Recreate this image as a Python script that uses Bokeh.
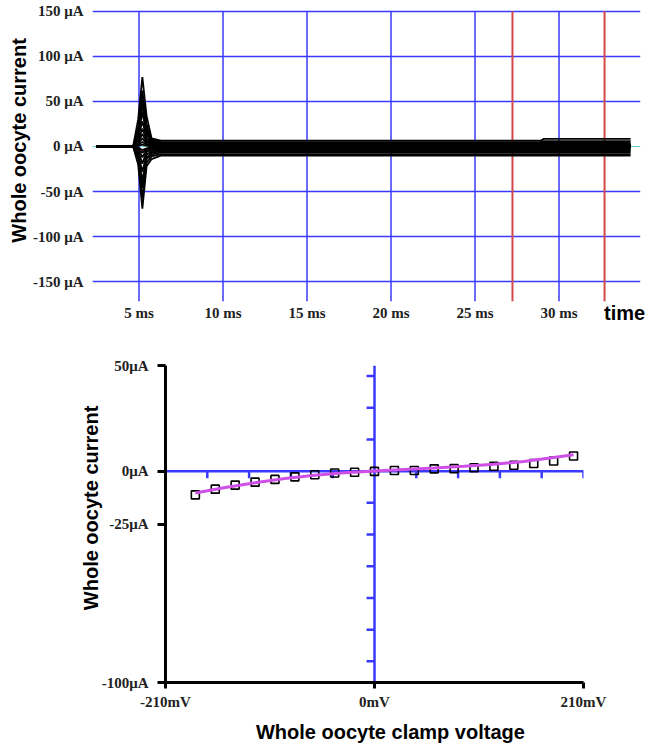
import math
from bokeh.plotting import figure
from bokeh.models import FixedTicker, Range1d, Span, LinearAxis
from bokeh.embed import file_html
from bokeh.resources import INLINE

# ---------------- top panel: current traces ----------------
time_ticks = [5, 10, 15, 20, 25, 30]
time_tick_labels = ["5 ms", "10 ms", "15 ms", "20 ms", "25 ms", "30 ms"]
red_marker_times = [27.23, 32.71]
current_grid = [150, 100, 50, -50, -100, -150]
current_ticks = [150, 100, 50, 0, -50, -100, -150]
current_tick_labels = ["150 μA", "100 μA", "50 μA", "0 μA", "-50 μA", "-100 μA", "-150 μA"]
top_y_title = "Whole oocyte current"
top_x_title = "time"

# knot times (ms) of each recorded trace
trace_times = [2.47, 4.65, 4.95, 5.2, 5.45, 5.75, 6.3, 28.9, 29.1, 34.26]
# one entry per voltage step (-180 ... +200 mV)
trace_baseline = [0] * 20
trace_rise = [-20, -16, -13, -10, -8, -5, -3, -2, -1, 1, 2, 3, 4, 6, 9, 12, 15, 18, 22, 30]
trace_peak = [-69, -57, -46, -38, -28, -19, -12, -7, -4, 2, 5, 9, 14, 20, 28, 38, 46, 52, 62, 77]
trace_fall = [-22, -18, -14, -12, -9, -6, -4, -3, -2, 1, 2, 3, 5, 7, 10, 14, 17, 20, 25, 34]
trace_settle = [-14, -11, -9, -7, -5.5, -4, -2.5, -1.5, -0.8, 0.2, 0.6, 1, 2, 3, 3.5, 4.5, 5.5, 6.5, 7.5, 9]
trace_ss_early = [-10.2, -8.5, -6.6, -5.2, -3.9, -2.7, -1.7, -0.9, -0.5, 0, 0.3, 0.4, 1.1, 1.2, 1.6, 2.3, 2.8, 3.6, 4.8, 6.4]
trace_ss_late = [-10.2, -8.5, -6.6, -5.2, -3.9, -2.7, -1.7, -0.9, -0.5, 0, 0.3, 0.4, 1.1, 1.2, 1.6, 2.3, 2.8, 4.2, 6.0, 8.4]

# ---------------- bottom panel: I-V relation ----------------
iv_voltage = [-180, -160, -140, -120, -100, -80, -60, -40, -20, 0,
              20, 40, 60, 80, 100, 120, 140, 160, 180, 200]
iv_current = [-11.2, -8.5, -6.6, -5.2, -3.9, -2.7, -1.7, -0.9, -0.5, -0.1,
              0.3, 0.3, 1.1, 1.2, 1.6, 2.3, 2.8, 3.6, 4.8, 7.2]
fit_voltage = [-180, -150, -120, -90, -60, -30, 0, 30, 60, 90, 120, 150, 180, 200]
fit_current = [-10.3, -7.7, -5.5, -3.5, -1.9, -0.8, 0.1, 0.8, 1.5, 2.3, 3.3, 4.6, 6.5, 7.8]
iv_y_ticks = [50, 0, -25, -100]
iv_y_tick_labels = ["50μA", "0μA", "-25μA", "-100μA"]
iv_x_ticks = [-210, 0, 210]
iv_x_tick_labels = ["-210mV", "0mV", "210mV"]
inner_x_ticks = [-168, -126, -84, -42, 42, 84, 126, 168, 210]
inner_y_ticks = [45, 30, 15, -15, -30, -45, -60, -75, -90]
iv_y_title = "Whole oocyte current"
iv_x_title = "Whole oocyte clamp voltage"

BLUE = "#3a3aff"
RED = "#d44848"
SERIF = "Liberation Serif"
SANS = "Liberation Sans"


def style_ticks(ax, ticks, labels, standoff, tick_out=0, line_color=None, line_width=1):
    ax.ticker = FixedTicker(ticks=ticks)
    ax.major_label_overrides = {t: l for t, l in zip(ticks, labels)}
    ax.axis_line_color = line_color
    ax.axis_line_width = line_width
    ax.major_tick_line_color = line_color
    ax.major_tick_line_width = line_width
    ax.minor_tick_line_color = None
    ax.minor_tick_out = 0
    ax.minor_tick_in = 0
    ax.major_tick_out = tick_out
    ax.major_tick_in = 0
    ax.major_label_standoff = standoff
    ax.major_label_text_font = SERIF
    ax.major_label_text_font_style = "bold"
    ax.major_label_text_font_size = "15px"
    ax.major_label_text_color = "#222222"


def title_axis(ax, pos, text, standoff, vertical=False):
    ax.ticker = FixedTicker(ticks=[pos])
    ax.major_label_overrides = {pos: text}
    ax.axis_line_color = None
    ax.major_tick_line_color = None
    ax.minor_tick_line_color = None
    ax.major_tick_out = 0
    ax.major_tick_in = 0
    ax.minor_tick_out = 0
    ax.major_label_standoff = standoff
    ax.major_label_text_font = SANS
    ax.major_label_text_font_style = "bold"
    ax.major_label_text_font_size = "20px"
    ax.major_label_text_color = "black"
    if vertical:
        ax.major_label_orientation = "vertical"


# ======== top figure ========
p1 = figure(width=647, height=335, x_range=Range1d(2.232, 34.85), y_range=Range1d(-172, 152),
            output_backend="svg", toolbar_location=None,
            min_border_left=92, min_border_right=7, min_border_top=9, min_border_bottom=34)
p1.outline_line_color = None
p1.xgrid.visible = False
p1.ygrid.ticker = FixedTicker(ticks=current_grid)
p1.ygrid.grid_line_color = BLUE
p1.ygrid.grid_line_width = 1.5

style_ticks(p1.xaxis[0], time_ticks, time_tick_labels, 3)
style_ticks(p1.yaxis[0], current_ticks, current_tick_labels, 9)

y_title_ax1 = LinearAxis()
title_axis(y_title_ax1, 6.7, top_y_title, -1, vertical=True)
p1.add_layout(y_title_ax1, "left")
x_title_ax1 = LinearAxis()
title_axis(x_title_ax1, 33.9, top_x_title, -22)
p1.add_layout(x_title_ax1, "below")

p1.add_layout(Span(location=0, dimension="width", line_color="#66cccc", line_width=1.2, level="underlay"))

p1.segment(x0=time_ticks, x1=time_ticks, y0=[p1.y_range.start] * len(time_ticks),
           y1=[current_ticks[0]] * len(time_ticks), line_color=BLUE, line_width=1.5)
p1.segment(x0=red_marker_times, x1=red_marker_times, y0=[p1.y_range.start] * 2,
           y1=[current_ticks[0]] * 2, line_color=RED, line_width=2)

xs, ys = [], []
for i in range(len(trace_peak)):
    xs.append(trace_times)
    ys.append([trace_baseline[i], trace_baseline[i], trace_rise[i], trace_peak[i], trace_fall[i],
               trace_settle[i], trace_ss_early[i], trace_ss_early[i], trace_ss_late[i], trace_ss_late[i]])
p1.multi_line(xs=xs, ys=ys, line_color="black", line_width=1.8)

# ======== bottom figure ========
p2 = figure(width=647, height=410, x_range=Range1d(-210, 210), y_range=Range1d(-100, 50),
            output_backend="svg", toolbar_location=None,
            min_border_left=165, min_border_right=64, min_border_top=30, min_border_bottom=61)
p2.outline_line_color = None
p2.grid.visible = False

style_ticks(p2.xaxis[0], iv_x_ticks, iv_x_tick_labels, 5, tick_out=6, line_color="black", line_width=3)
style_ticks(p2.yaxis[0], iv_y_ticks, iv_y_tick_labels, 9, tick_out=8, line_color="black", line_width=3)

y_title_ax2 = LinearAxis()
title_axis(y_title_ax2, -17.4, iv_y_title, -4, vertical=True)
p2.add_layout(y_title_ax2, "left")
x_title_ax2 = LinearAxis()
title_axis(x_title_ax2, 16, iv_x_title, 8)
p2.add_layout(x_title_ax2, "below")

p2.add_layout(Span(location=0, dimension="width", line_color=BLUE, line_width=2.5, level="underlay"))
p2.add_layout(Span(location=0, dimension="height", line_color=BLUE, line_width=2.5, level="underlay"))
p2.segment(x0=inner_x_ticks, x1=inner_x_ticks, y0=[0] * len(inner_x_ticks),
           y1=[-3.3] * len(inner_x_ticks), line_color=BLUE, line_width=2.5)
p2.segment(x0=[-8] * len(inner_y_ticks), x1=[0] * len(inner_y_ticks), y0=inner_y_ticks,
           y1=inner_y_ticks, line_color=BLUE, line_width=2.5)

p2.scatter(iv_voltage, iv_current, marker="square", size=8, line_color="black",
           line_width=1.6, fill_color=None)
p2.line(fit_voltage, fit_current, line_color="#cf50e6", line_width=3)

open("out.html", "w").write(file_html([p1, p2], INLINE))
